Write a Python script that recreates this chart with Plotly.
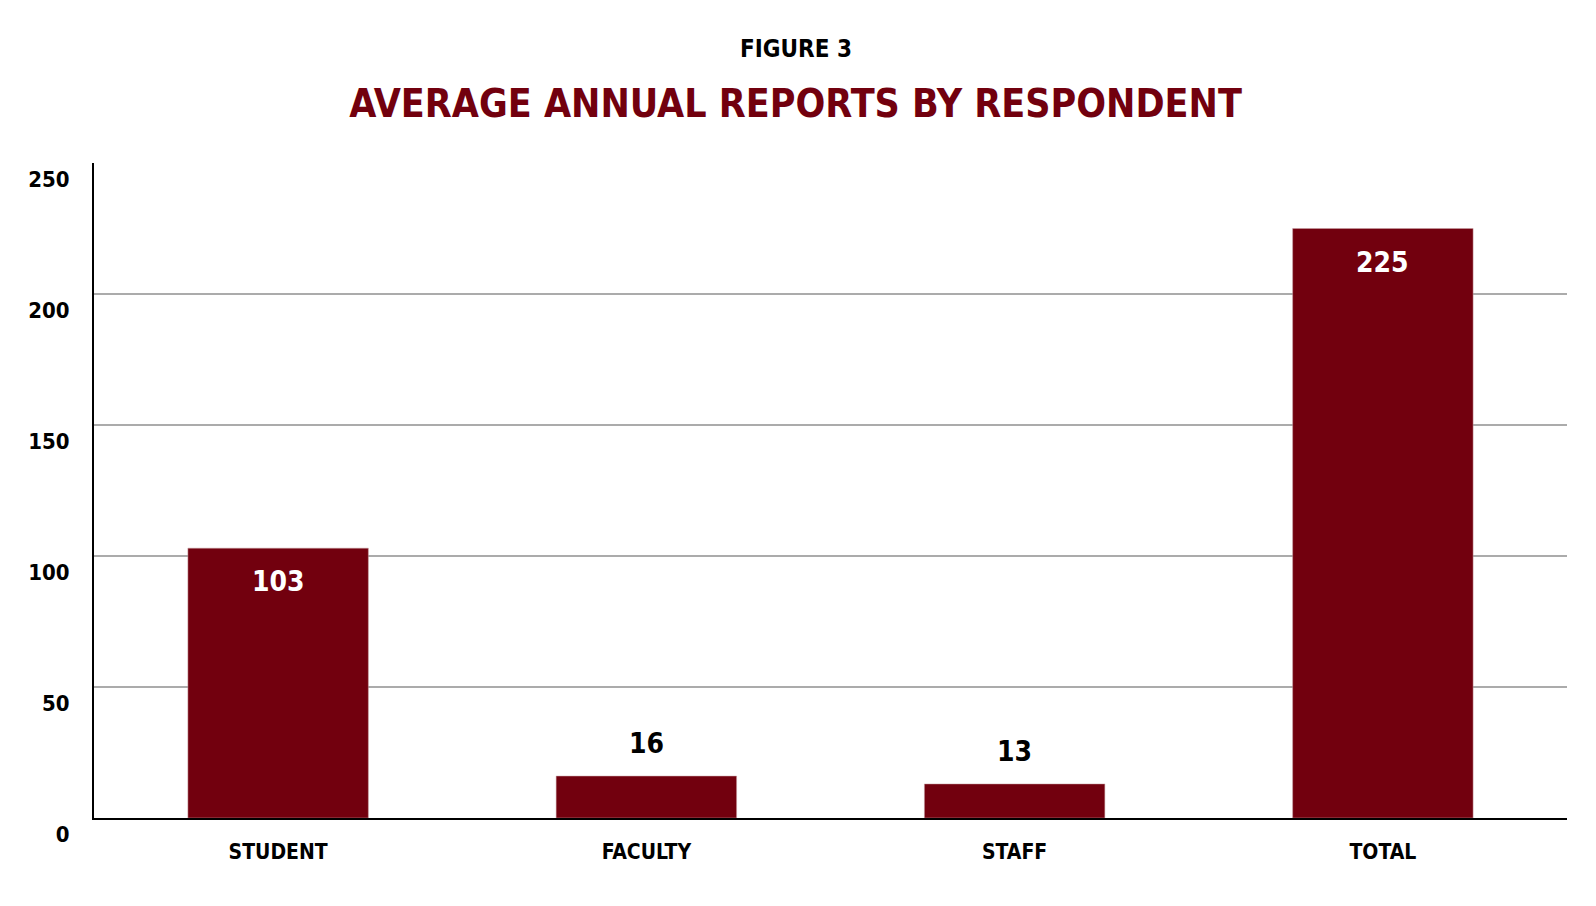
import plotly.graph_objects as go

categories = ["STUDENT", "FACULTY", "STAFF", "TOTAL"]
values = [103, 16, 13, 225]
y_ticks = [0, 50, 100, 150, 200, 250]

BAR = "#72000E"
FONT = "DejaVu Sans Condensed, Roboto"

W, H = 1596, 906
L, R, T, B = 86, 37, 155, 96
TITLE_CX = 787.5  # horizontal centre of the headings, in figure pixels


def f(size, color="black"):
    return dict(family=FONT, size=size, color=color, weight="bold")


fig = go.Figure()
fig.add_trace(go.Bar(
    x=categories, y=values,
    marker=dict(color=BAR, line=dict(color="#c9a0a4", width=0.5)),
    width=0.49,
    hoverinfo="skip",
))

inside_threshold = 50
for c, v in zip(categories, values):
    inside = v >= inside_threshold
    fig.add_annotation(
        x=c, y=v, text=str(v), showarrow=False,
        xref="x", yref="y",
        yanchor="top" if inside else "bottom",
        yshift=-15 if inside else 14,
        font=f(28, "white" if inside else "black"),
    )

plot_w = W - L - R
plot_h = H - T - B
fig.add_annotation(text="FIGURE 3", x=(TITLE_CX - L) / plot_w, xref="paper", xanchor="center",
                   y=1 + (T - 41) / plot_h, yref="paper", yanchor="middle",
                   showarrow=False, font=f(24))

fig.update_layout(
    width=W, height=H,
    paper_bgcolor="white", plot_bgcolor="white",
    margin=dict(l=L, r=R, t=T, b=B, autoexpand=False),
    showlegend=False,
    title=dict(text="AVERAGE ANNUAL REPORTS BY RESPONDENT", x=TITLE_CX / W,
               xanchor="center", y=1 - 95 / H, yanchor="middle", yref="container",
               font=f(39, BAR)),
    xaxis=dict(
        showgrid=False, showline=True, linecolor="black", linewidth=2,
        tickfont=f(21), ticks="", ticklabelstandoff=14, automargin=False,
    ),
    yaxis=dict(
        range=[0, 250], tickvals=y_ticks, showgrid=True, gridcolor="#ababab", gridwidth=2,
        showline=True, linecolor="black", linewidth=2, zeroline=False,
        tickfont=f(22), ticks="", ticklabelstandoff=18, ticklabelshift=16,
        automargin=False,
    ),
)

fig.write_html("out.html")
